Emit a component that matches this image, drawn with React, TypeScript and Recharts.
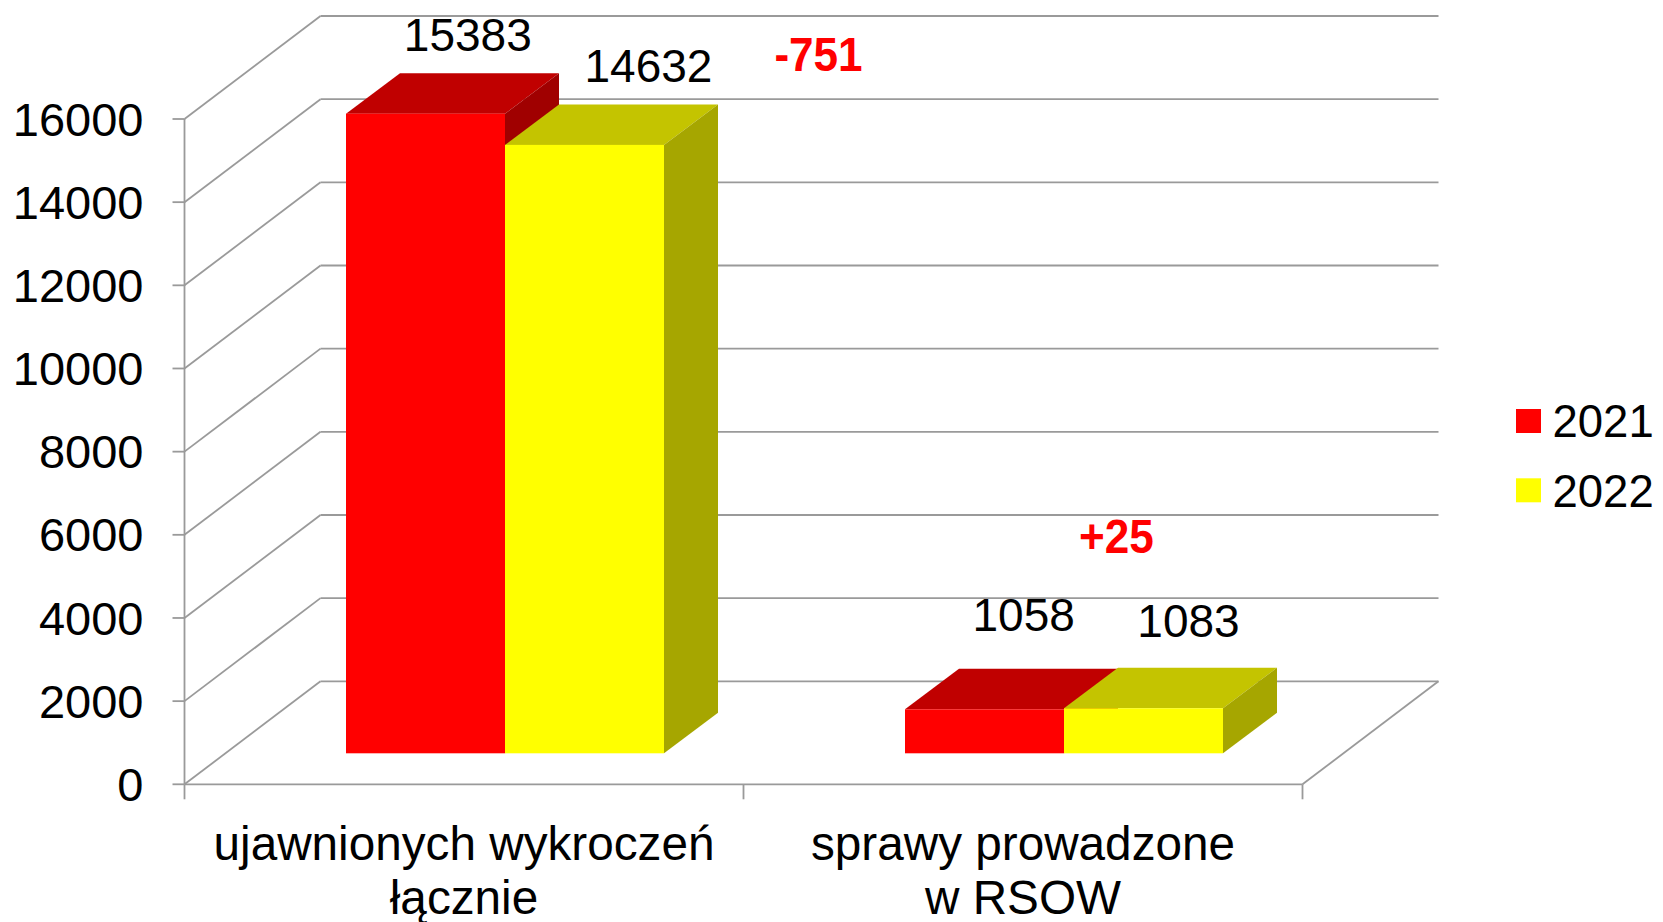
import React from 'react';
import { BarChart, Bar, XAxis, YAxis, CartesianGrid, LabelList, Legend } from 'recharts';

const CATEGORIES = [
  ['ujawnionych wykroczeń', 'łącznie'],
  ['sprawy prowadzone', 'w RSOW'],
];
const SERIES = ['2021', '2022'];
const VALUES_2021 = [15383, 1058];
const VALUES_2022 = [14632, 1083];
const Y_TICKS = [0, 2000, 4000, 6000, 8000, 10000, 12000, 14000, 16000];

const data = CATEGORIES.map((lines, i) => ({
  name: lines.join('\n'),
  y2021: VALUES_2021[i],
  y2022: VALUES_2022[i],
  diff: VALUES_2022[i] - VALUES_2021[i],
}));

const FONT = '"Liberation Sans", Arial, sans-serif';
const GRID = '#9a9a9a';

// 3d look: back wall offset and bar box offsets
const DX = 136;
const DY = -103;
const OX = 40.5;
const OY = -31;
const BDX = 54;
const BDY = -40.5;

const COLORS: Record<string, string[]> = {
  y2021: ['#FF0000', '#C00000', '#A00000'],
  y2022: ['#FFFF00', '#C4C400', '#A6A600'],
};

// label placement (dx from bar centre, rise above bar top)
const VALUE_SHIFT: Record<string, number[][]> = {
  y2021: [[82.8, 93.7], [79.7, 109.6]],
  y2022: [[104.5, 93.6], [85.5, 102.6]],
};
const DIFF_SHIFT = [[274.5, 104.9], [13.3, 186]];

const box = (key: string) => (props: any) => {
  const { x, y, width, height } = props;
  const [front, top, side] = COLORS[key];
  const fx = x + OX;
  const fy = y + OY;
  return (
    <g>
      <polygon
        points={`${fx},${fy} ${fx + BDX},${fy + BDY} ${fx + width + BDX},${fy + BDY} ${fx + width},${fy}`}
        fill={top}
      />
      <polygon
        points={`${fx + width},${fy} ${fx + width + BDX},${fy + BDY} ${fx + width + BDX},${fy + height + BDY} ${fx + width},${fy + height}`}
        fill={side}
      />
      <rect x={fx} y={fy} width={width} height={height} fill={front} />
    </g>
  );
};

const rectOf = (p: any) => (p.viewBox && p.viewBox.width != null ? p.viewBox : p);

const valueLabel = (key: string) => (p: any) => {
  const r = rectOf(p);
  const [dx, rise] = VALUE_SHIFT[key][p.index];
  return (
    <text x={r.x + r.width / 2 + dx} y={r.y - rise} textAnchor="middle" fontSize={46} fill="#000" fontFamily={FONT}>
      {p.value}
    </text>
  );
};

const diffLabel = (p: any) => {
  const r = rectOf(p);
  const [dx, rise] = DIFF_SHIFT[p.index];
  const v = Number(p.value);
  return (
    <text
      transform={`translate(${r.x + r.width / 2 + dx},${r.y - rise}) scale(0.9,1)`}
      textAnchor="middle"
      fontSize={49}
      fontWeight="bold"
      fill="#FF0000"
      fontFamily={FONT}
    >
      {v > 0 ? `+${v}` : `${v}`}
    </text>
  );
};

let rightEdge = 0;
const verticalGen = ({ width, offset }: any) => {
  const l = offset.left;
  const r = offset.width != null ? offset.left + offset.width : width - offset.right;
  rightEdge = r;
  return [l, (l + r) / 2, r];
};

const hLine = (p: any) => (
  <g key={p.key}>
    <line x1={p.x1} y1={p.y1} x2={p.x1 + DX} y2={p.y1 + DY} stroke={GRID} strokeWidth={1.8} />
    <line x1={p.x1 + DX} y1={p.y1 + DY} x2={p.x2 + DX} y2={p.y1 + DY} stroke={GRID} strokeWidth={1.8} />
  </g>
);

const vLine = (p: any) => (
  <g key={p.key}>
    <line x1={p.x1} y1={p.y2} x2={p.x1} y2={p.y2 + 15} stroke={GRID} strokeWidth={1.8} />
    {Math.abs(p.x1 - rightEdge) < 1 && (
      <line x1={p.x1} y1={p.y2} x2={p.x1 + DX} y2={p.y2 + DY} stroke={GRID} strokeWidth={1.8} />
    )}
  </g>
);

const CategoryTick = ({ x, y, payload }: any) => {
  const lines = String(payload.value).split('\n');
  return (
    <text textAnchor="middle" fontSize={47.7} fill="#000" fontFamily={FONT}>
      {lines.map((l, i) => (
        <tspan key={i} x={x} y={y + 76 + i * 53.5}>
          {l}
        </tspan>
      ))}
    </text>
  );
};

const LegendBox = ({ payload }: any) => (
  <svg width={150} height={120} style={{ display: 'block' }}>
    {(payload || []).map((p: any, i: number) => (
      <g key={i}>
        <rect x={6} y={14 + i * 69.3} width={25} height={24} fill={p.color} />
        <text x={42.5} y={41.7 + i * 70} fontSize={45.5} fill="#000" fontFamily={FONT}>
          {p.value}
        </text>
      </g>
    ))}
  </svg>
);

export default function App() {
  return (
    <div style={{ position: 'absolute', left: 0, top: 0, background: '#fff' }}>
      <BarChart
        width={1663}
        height={922}
        data={data}
        margin={{ top: 119, right: 360.5, bottom: 7.7, left: 0 }}
        barSize={159}
        barGap={0}
        style={{ fontFamily: FONT }}
      >
        <CartesianGrid horizontal={hLine} vertical={vLine} verticalCoordinatesGenerator={verticalGen} />
        <XAxis
          dataKey="name"
          interval={0}
          height={130}
          tickLine={false}
          tickSize={0}
          tickMargin={0}
          axisLine={{ stroke: GRID, strokeWidth: 1.8 }}
          tick={<CategoryTick />}
        />
        <YAxis
          width={184.5}
          domain={[0, 16000]}
          ticks={Y_TICKS}
          interval={0}
          tickSize={12}
          tickMargin={29}
          axisLine={{ stroke: GRID, strokeWidth: 1.8 }}
          tickLine={{ stroke: GRID, strokeWidth: 1.8 }}
          tick={{ fill: '#000', fontSize: 47, fontFamily: FONT }}
        />
        <Legend
          layout="vertical"
          align="center"
          verticalAlign="middle"
          wrapperStyle={{ left: 1510, top: 395, width: 150, height: 120 }}
          content={<LegendBox />}
        />
        <Bar dataKey="y2021" name={SERIES[0]} fill="#FF0000" shape={box('y2021')} isAnimationActive={false}>
          <LabelList dataKey="y2021" content={valueLabel('y2021')} />
        </Bar>
        <Bar dataKey="y2022" name={SERIES[1]} fill="#FFFF00" shape={box('y2022')} isAnimationActive={false}>
          <LabelList dataKey="y2022" content={valueLabel('y2022')} />
          <LabelList dataKey="diff" content={diffLabel} />
        </Bar>
      </BarChart>
    </div>
  );
}
